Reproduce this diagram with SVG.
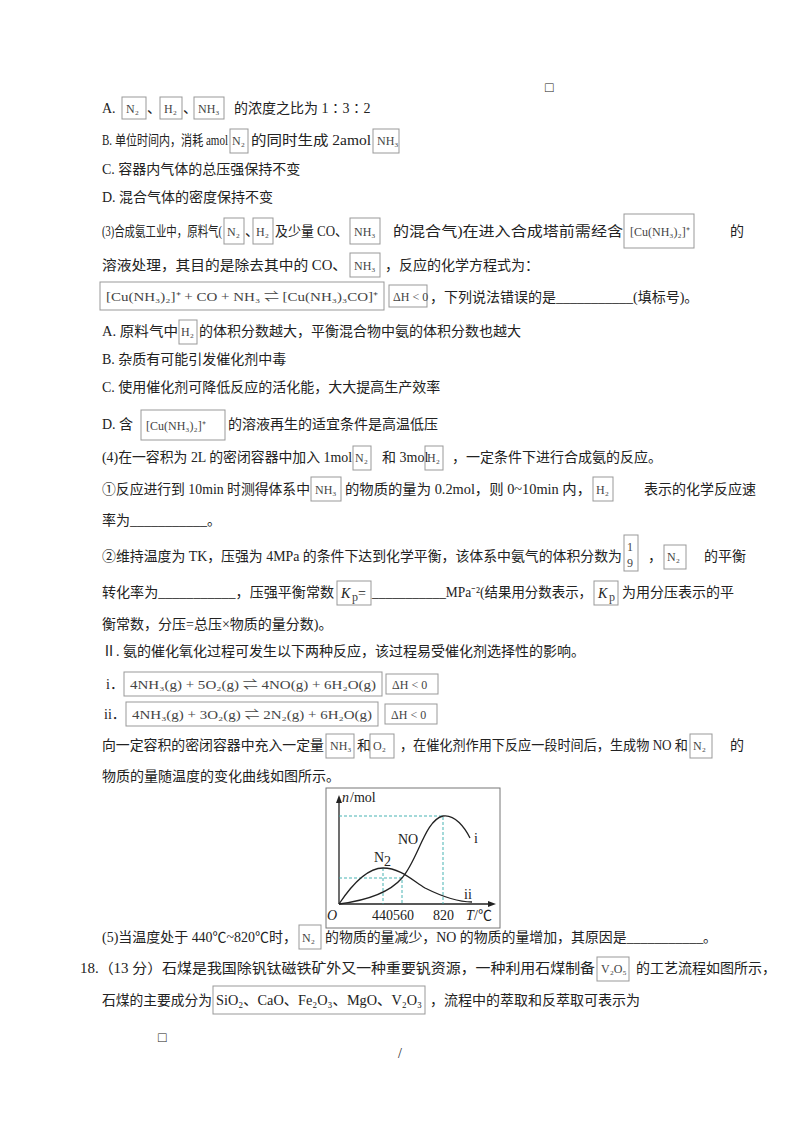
<svg xmlns="http://www.w3.org/2000/svg" width="800" height="1132" viewBox="0 0 800 1132">
<style>
text{font-family:"Liberation Serif","Noto Sans CJK SC",serif;font-size:14px;fill:#222}
.b{fill:none;stroke:#999;stroke-width:1}
.f{font-size:12px;fill:#444}
.c{fill:none;stroke:#222;stroke-width:1.3}
.d{fill:none;stroke:#3aa;stroke-width:0.9;stroke-dasharray:3,2}
</style>
<rect width="800" height="1132" fill="#fff"/>
<g id="text">
<text x="545" y="92" font-size="8">□</text>
<text x="102" y="113">A.</text>
<rect class="b" x="122" y="97" width="24" height="22"/><text class="f" x="126" y="113">N₂</text>
<text x="147" y="113">、</text>
<rect class="b" x="160" y="97" width="22" height="22"/><text class="f" x="164" y="113">H₂</text>
<text x="183" y="113">、</text>
<rect class="b" x="194" y="97" width="30" height="22"/><text class="f" x="198" y="113">NH₃</text>
<text x="234" y="113">的浓度之比为 1∶3∶2</text>
<text x="102" y="145" textLength="126" lengthAdjust="spacingAndGlyphs">B. 单位时间内，消耗 amol</text>
<rect class="b" x="230" y="129" width="18" height="24"/><text class="f" x="232" y="145">N₂</text>
<text x="251" y="145" textLength="120" lengthAdjust="spacingAndGlyphs">的同时生成 2amol</text>
<rect class="b" x="373" y="129" width="26" height="24"/><text class="f" x="377" y="145">NH₃</text>
<text x="102" y="174">C. 容器内气体的总压强保持不变</text>
<text x="102" y="202">D. 混合气体的密度保持不变</text>
<text x="102" y="236" textLength="120" lengthAdjust="spacingAndGlyphs">(3)合成氨工业中，原料气(</text>
<rect class="b" x="224" y="218" width="20" height="26"/><text class="f" x="227" y="236">N₂</text>
<text x="245" y="236">、</text>
<rect class="b" x="253" y="218" width="20" height="26"/><text class="f" x="256" y="236">H₂</text>
<text x="275" y="236" textLength="73" lengthAdjust="spacingAndGlyphs">及少量 CO、</text>
<rect class="b" x="350" y="218" width="30" height="26"/><text class="f" x="354" y="236">NH₃</text>
<text x="393" y="236" textLength="230" lengthAdjust="spacingAndGlyphs">的混合气)在进入合成塔前需经含</text>
<rect class="b" x="624" y="214" width="70" height="34"/><text class="f" x="630" y="236">[Cu(NH₃)₂]⁺</text>
<text x="730" y="236">的</text>
<text x="102" y="270" textLength="245" lengthAdjust="spacingAndGlyphs">溶液处理，其目的是除去其中的 CO、</text>
<rect class="b" x="350" y="253" width="30" height="24"/><text class="f" x="354" y="270">NH₃</text>
<text x="385" y="270">，反应的化学方程式为：</text>
<rect class="b" x="100" y="282" width="284" height="28"/><text class="f" x="106" y="301" textLength="272" lengthAdjust="spacingAndGlyphs">[Cu(NH₃)₂]⁺ + CO + NH₃ ⇌ [Cu(NH₃)₃CO]⁺</text>
<rect class="b" x="389" y="285" width="38" height="22"/><text class="f" x="393" y="301">ΔH &lt; 0</text>
<text x="430" y="302">，下列说法错误的是___________(填标号)。</text>
<text x="102" y="336" textLength="76" lengthAdjust="spacingAndGlyphs">A. 原料气中</text>
<rect class="b" x="179" y="320" width="18" height="24"/><text class="f" x="181" y="336">H₂</text>
<text x="199" y="336">的体积分数越大，平衡混合物中氨的体积分数也越大</text>
<text x="102" y="364">B. 杂质有可能引发催化剂中毒</text>
<text x="102" y="392">C. 使用催化剂可降低反应的活化能，大大提高生产效率</text>
<text x="102" y="429">D. 含</text>
<rect class="b" x="141" y="410" width="84" height="30"/><text class="f" x="146" y="430">[Cu(NH₃)₂]⁺</text>
<text x="228" y="429">的溶液再生的适宜条件是高温低压</text>
<text x="102" y="462" textLength="250" lengthAdjust="spacingAndGlyphs">(4)在一容积为 2L 的密闭容器中加入 1mol</text>
<rect class="b" x="353" y="446" width="18" height="24"/><text class="f" x="355" y="462">N₂</text>
<text x="382" y="462">和 3mol</text>
<rect class="b" x="425" y="446" width="18" height="24"/><text class="f" x="427" y="462">H₂</text>
<text x="452" y="462">，一定条件下进行合成氨的反应。</text>
<text x="102" y="494" textLength="208" lengthAdjust="spacingAndGlyphs">①反应进行到 10min 时测得体系中</text>
<rect class="b" x="311" y="477" width="30" height="24"/><text class="f" x="315" y="494">NH₃</text>
<text x="345" y="494" textLength="246" lengthAdjust="spacingAndGlyphs">的物质的量为 0.2mol，则 0~10min 内，</text>
<rect class="b" x="593" y="477" width="20" height="24"/><text class="f" x="596" y="494">H₂</text>
<text x="644" y="494">表示的化学反应速</text>
<text x="102" y="525">率为___________。</text>
<text x="102" y="561" textLength="520" lengthAdjust="spacingAndGlyphs">②维持温度为 TK，压强为 4MPa 的条件下达到化学平衡，该体系中氨气的体积分数为</text>
<rect class="b" x="624" y="535" width="14" height="36"/><text class="f" x="627" y="551">1</text><text class="f" x="627" y="567">9</text>
<text x="648" y="561">，</text>
<rect class="b" x="664" y="545" width="22" height="24"/><text class="f" x="667" y="561">N₂</text>
<text x="704" y="561">的平衡</text>
<text x="102" y="597" textLength="232" lengthAdjust="spacingAndGlyphs">转化率为___________，压强平衡常数</text>
<rect class="b" x="337" y="581" width="34" height="24"/><text x="341" y="598" font-style="italic">K</text><text class="f" x="352" y="601">p</text><text x="358" y="598">=</text>
<text x="372" y="597" textLength="220" lengthAdjust="spacingAndGlyphs">___________MPa⁻²(结果用分数表示，</text>
<rect class="b" x="594" y="581" width="24" height="24"/><text x="598" y="598" font-style="italic">K</text><text class="f" x="609" y="601">p</text>
<text x="622" y="597">为用分压表示的平</text>
<text x="102" y="629">衡常数，分压=总压×物质的量分数)。</text>
<text x="102" y="656">Ⅱ. 氨的催化氧化过程可发生以下两种反应，该过程易受催化剂选择性的影响。</text>
<text x="106" y="689">i．</text>
<rect class="b" x="124" y="672" width="258" height="24"/><text class="f" x="130" y="689" textLength="246" lengthAdjust="spacingAndGlyphs">4NH₃(g) + 5O₂(g) ⇌ 4NO(g) + 6H₂O(g)</text>
<rect class="b" x="386" y="674" width="52" height="20"/><text class="f" x="392" y="689">ΔH &lt; 0</text>
<text x="104" y="719">ii．</text>
<rect class="b" x="126" y="702" width="252" height="24"/><text class="f" x="132" y="719" textLength="240" lengthAdjust="spacingAndGlyphs">4NH₃(g) + 3O₂(g) ⇌ 2N₂(g) + 6H₂O(g)</text>
<rect class="b" x="385" y="704" width="52" height="20"/><text class="f" x="391" y="719">ΔH &lt; 0</text>
<text x="102" y="750" textLength="222" lengthAdjust="spacingAndGlyphs">向一定容积的密闭容器中充入一定量</text>
<rect class="b" x="326" y="734" width="28" height="24"/><text class="f" x="330" y="750">NH₃</text>
<text x="357" y="750">和</text>
<rect class="b" x="370" y="734" width="24" height="24"/><text class="f" x="373" y="750">O₂</text>
<text x="400" y="750" textLength="288" lengthAdjust="spacingAndGlyphs">，在催化剂作用下反应一段时间后，生成物 NO 和</text>
<rect class="b" x="690" y="734" width="22" height="24"/><text class="f" x="693" y="750">N₂</text>
<text x="730" y="750">的</text>
<text x="102" y="781">物质的量随温度的变化曲线如图所示。</text>
<text x="102" y="942" textLength="195" lengthAdjust="spacingAndGlyphs">(5)当温度处于 440℃~820℃时，</text>
<rect class="b" x="299" y="925" width="22" height="24"/><text class="f" x="302" y="942">N₂</text>
<text x="325" y="942" textLength="392" lengthAdjust="spacingAndGlyphs">的物质的量减少，NO 的物质的量增加，其原因是___________。</text>
<text x="80" y="973" textLength="515" lengthAdjust="spacingAndGlyphs">18.（13 分）石煤是我国除钒钛磁铁矿外又一种重要钒资源，一种利用石煤制备</text>
<rect class="b" x="597" y="957" width="32" height="24"/><text class="f" x="601" y="973">V₂O₅</text>
<text x="636" y="973" textLength="140" lengthAdjust="spacingAndGlyphs">的工艺流程如图所示，</text>
<text x="102" y="1005" textLength="110" lengthAdjust="spacingAndGlyphs">石煤的主要成分为</text>
<rect class="b" x="213" y="986" width="212" height="28"/><text x="216" y="1005" font-size="13" textLength="206" lengthAdjust="spacingAndGlyphs">SiO₂、CaO、Fe₂O₃、MgO、V₂O₃</text>
<text x="430" y="1005">，流程中的萃取和反萃取可表示为</text>
<text x="158" y="1042" font-size="8">□</text>
<text x="398" y="1058" font-size="12">/</text>
</g>
<g id="graph">
<rect x="326" y="788" width="174" height="140" fill="none" stroke="#777"/>
<path class="c" d="M339,904 V799 M339,904 H492"/>
<path fill="#222" d="M339,795 l-3,8 h6z M496,904 l-8,-3 v6z"/>
<path class="d" d="M339,816 H443 V904 M339,878 H402 V904 M383,868 V904"/>
<path class="c" d="M339,904 C355,880 370,868 383,868 C400,868 412,880 425,888 C445,898 460,902 472,902"/>
<path class="c" d="M339,904 C370,900 390,892 402,878 C418,860 425,820 443,816 C455,814 465,828 470,838"/>
<text x="342" y="802" font-style="italic">n</text><text x="350" y="802">/mol</text>
<text x="398" y="844">NO</text>
<text x="374" y="862">N</text><text x="384" y="866" font-size="10">2</text>
<text x="474" y="843">i</text>
<text x="464" y="899">ii</text>
<text x="327" y="920" font-style="italic">O</text>
<text x="372" y="920">440560</text>
<text x="433" y="920">820</text>
<text x="466" y="920" font-style="italic">T</text><text x="474" y="920">/℃</text>
</g>
</svg>
